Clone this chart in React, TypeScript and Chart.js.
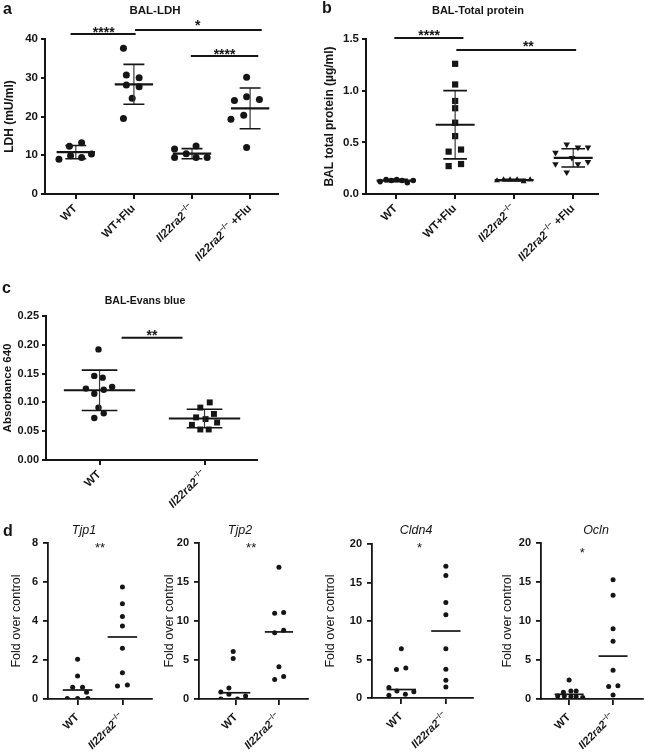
import React, { useEffect, useRef } from "react";
import { Chart, registerables } from "chart.js";

Chart.register(...registerables);

const FONT = '"Liberation Sans", Arial, Helvetica, sans-serif';
const INK = "#151515";

// ---------------- Panel a: BAL-LDH ----------------
const ldhCategories = ["WT", "WT+Flu", "Il22ra2−/−", "Il22ra2−/− +Flu"];
const ldhWT = [9.0, 12.3, 13.2, 9.9, 9.4, 10.3];
const ldhWTJitter = [-0.29, -0.11, 0.1, -0.09, 0.1, 0.27];
const ldhWTFlu = [37.6, 30.7, 30.0, 28.1, 27.7, 24.7, 19.5];
const ldhWTFluJitter = [-0.18, -0.13, 0.09, -0.13, 0.09, -0.03, -0.18];
const ldhKO = [11.6, 9.4, 10.4, 12.4, 9.4, 9.4];
const ldhKOJitter = [-0.3, -0.3, -0.1, 0.07, 0.07, 0.26];
const ldhKOFlu = [30.1, 24.1, 25.1, 24.4, 19.3, 20.3, 12.0];
const ldhKOFluJitter = [-0.06, -0.27, -0.06, 0.16, -0.33, -0.11, -0.06];
const ldhMeans = [10.8, 28.3, 10.4, 22.1];
const ldhSD = [1.7, 5.15, 1.3, 5.25];

// ---------------- Panel b: BAL-Total protein ----------------
const protCategories = ["WT", "WT+Flu", "Il22ra2−/−", "Il22ra2−/− +Flu"];
const protWT = [0.12, 0.14, 0.13, 0.14, 0.13, 0.11, 0.13];
const protWTJitter = [-0.27, -0.17, -0.08, 0.01, 0.1, 0.19, 0.29];
const protWTFlu = [1.26, 1.06, 0.9, 0.83, 0.69, 0.56, 0.43, 0.41, 0.29, 0.27];
const protWTFluJitter = [0, 0, 0, 0, 0, 0, 0.1, -0.11, 0.1, -0.11];
const protKO = [0.13, 0.14, 0.14, 0.14, 0.12, 0.14];
const protKOJitter = [-0.29, -0.18, -0.07, 0.05, 0.16, 0.27];
const protKOFlu = [0.48, 0.45, 0.45, 0.4, 0.35, 0.29, 0.21, 0.29, 0.31];
const protKOFluJitter = [-0.11, 0.08, 0.25, -0.3, -0.02, -0.3, -0.11, 0.08, 0.25];
const protMeans = [0.13, 0.67, 0.135, 0.35];
const protSD = [0.012, 0.33, 0.008, 0.088];

// ---------------- Panel c: BAL-Evans blue ----------------
const evansCategories = ["WT", "Il22ra2−/−"];
const evansWT = [0.192, 0.146, 0.143, 0.124, 0.122, 0.127, 0.115, 0.091, 0.081, 0.073];
const evansWTJitter = [-0.01, -0.05, 0.03, -0.13, 0.04, 0.12, -0.05, -0.01, 0.04, -0.05];
const evansKO = [0.1, 0.091, 0.074, 0.071, 0.08, 0.061, 0.065, 0.053, 0.053];
const evansKOJitter = [0.05, -0.04, -0.08, 0.01, 0.09, -0.12, 0.12, -0.04, 0.04];
const evansMeans = [0.121, 0.072];
const evansSD = [0.035, 0.016];

// ---------------- Panel d: tight junction genes ----------------
const geneCategories = ["WT", "Il22ra2−/−"];
const tjp1WT = [2.04, 1.18, 0.6, 0.6, 0.34, 0.03, 0.03, 0.03];
const tjp1WTJitter = [0, 0, -0.11, 0.11, 0.2, -0.23, 0, 0.23];
const tjp1KO = [5.74, 4.88, 4.23, 3.75, 2.6, 1.35, 0.67, 0.72];
const tjp1KOJitter = [0, 0, 0, 0, 0, 0, -0.11, 0.11];
const tjp1Medians = [0.46, 3.18];

const tjp2WT = [6.1, 5.2, 1.4, 0.9, 0.6, 0.0, 0.0, 0.4];
const tjp2WTJitter = [-0.07, -0.07, -0.17, -0.36, -0.17, -0.36, 0.03, 0.22];
const tjp2KO = [16.9, 11.0, 11.1, 8.5, 8.8, 4.15, 2.5, 2.87];
const tjp2KOJitter = [0, -0.1, 0.11, -0.1, 0.11, 0, -0.1, 0.11];
const tjp2Medians = [0.8, 8.6];

const cldn4WT = [6.4, 3.7, 3.9, 1.35, 0.35, 0.9, 0.5, 0.8];
const cldn4WTJitter = [0, -0.11, 0.1, -0.28, -0.28, -0.1, 0.09, 0.28];
const cldn4KO = [17.1, 15.9, 12.4, 10.8, 6.4, 3.75, 2.3, 1.44];
const cldn4KOJitter = [0, 0, 0, 0, 0, 0, 0, 0];
const cldn4Medians = [1.1, 8.7];

const oclnWT = [2.44, 0.86, 1.03, 1.03, 0.39, 0.39, 0.3, 0.3, 0.2];
const oclnWTJitter = [0, -0.13, 0.04, 0.16, -0.26, -0.11, 0.04, 0.16, 0.31];
const oclnKO = [15.3, 13.3, 9.0, 7.4, 3.7, 1.6, 1.7, 0.5];
const oclnKOJitter = [0, 0, 0, 0, 0, -0.1, 0.11, 0];
const oclnMedians = [0.6, 5.5];

// ---------------- types ----------------
type Group = { values: number[]; jitter: number[]; style: string; radius: number; rotation?: number };
type Sig = { x1?: number; x2?: number; y?: number; text: string; tx: number; ty: number; size: number };
type Spec = {
  box: [number, number, number, number];
  area: [number, number, number, number];
  xMin: number;
  xMax: number;
  yMin: number;
  yMax: number;
  yStep: number;
  yDigits: number;
  labels: string[];
  labelSize: number;
  labelDx: number;
  labelDy: number;
  title: { text: string; x: number; y: number; size: number; bold: boolean; italic: boolean };
  yTitle: { text: string; x: number; size: number; bold: boolean };
  groups: Group[];
  centers: number[];
  sd?: number[];
  meanHalf: number;
  capHalf: number;
  meanWidth: number;
  sigs: Sig[];
  axisWidth: number;
  tickLen: number;
  tickPad: number;
  tickSize: number;
};

const circle = "circle";

const specA: Spec = {
  box: [0, 0, 300, 280],
  area: [45, 39, 278, 194],
  xMin: -0.53, xMax: 3.48, yMin: 0, yMax: 40, yStep: 10, yDigits: 0,
  labels: ldhCategories, labelSize: 11.5, labelDx: -1, labelDy: 12,
  title: { text: "BAL-LDH", x: 155, y: 10, size: 11.5, bold: true, italic: false },
  yTitle: { text: "LDH (mU/ml)", x: 9, size: 12, bold: true },
  groups: [
    { values: ldhWT, jitter: ldhWTJitter, style: circle, radius: 3.5 },
    { values: ldhWTFlu, jitter: ldhWTFluJitter, style: circle, radius: 3.5 },
    { values: ldhKO, jitter: ldhKOJitter, style: circle, radius: 3.5 },
    { values: ldhKOFlu, jitter: ldhKOFluJitter, style: circle, radius: 3.5 },
  ],
  centers: ldhMeans, sd: ldhSD, meanHalf: 0.33, capHalf: 0.18, meanWidth: 2.2,
  sigs: [
    { x1: -0.09, x2: 1.03, y: 41.3, text: "****", tx: 0.48, ty: 42.5, size: 14 },
    { x1: 1.02, x2: 3.2, y: 42.3, text: "*", tx: 2.1, ty: 44.5, size: 14 },
    { x1: 1.98, x2: 3.14, y: 35.6, text: "****", tx: 2.56, ty: 37.0, size: 14 },
  ],
  axisWidth: 2, tickLen: 4, tickPad: 3, tickSize: 11.5,
};

const specB: Spec = {
  box: [320, 0, 325, 280],
  area: [366, 39, 598, 194],
  xMin: -0.51, xMax: 3.42, yMin: 0, yMax: 1.5, yStep: 0.5, yDigits: 1,
  labels: protCategories, labelSize: 11.5, labelDx: -1, labelDy: 12,
  title: { text: "BAL-Total protein", x: 478, y: 10, size: 11, bold: true, italic: false },
  yTitle: { text: "BAL total protein (µg/ml)", x: 329, size: 12, bold: true },
  groups: [
    { values: protWT, jitter: protWTJitter, style: circle, radius: 2.8 },
    { values: protWTFlu, jitter: protWTFluJitter, style: "rect", radius: 4.4 },
    { values: protKO, jitter: protKOJitter, style: "triangle", radius: 3.4 },
    { values: protKOFlu, jitter: protKOFluJitter, style: "triangle", radius: 3.8, rotation: 180 },
  ],
  centers: protMeans, sd: protSD, meanHalf: 0.33, capHalf: 0.2, meanWidth: 2.2,
  sigs: [
    { x1: -0.03, x2: 1.14, y: 1.51, text: "****", tx: 0.56, ty: 1.568, size: 14 },
    { x1: 1.02, x2: 3.05, y: 1.393, text: "**", tx: 2.24, ty: 1.461, size: 14 },
  ],
  axisWidth: 2, tickLen: 4, tickPad: 3, tickSize: 11.5,
};

const specC: Spec = {
  box: [0, 280, 320, 235],
  area: [46, 316, 257, 460],
  xMin: -0.51, xMax: 1.5, yMin: 0, yMax: 0.25, yStep: 0.05, yDigits: 2,
  labels: evansCategories, labelSize: 11.5, labelDx: -1, labelDy: 12,
  title: { text: "BAL-Evans blue", x: 145, y: 300.5, size: 10.5, bold: true, italic: false },
  yTitle: { text: "Absorbance 640", x: 7, size: 11.5, bold: true },
  groups: [
    { values: evansWT, jitter: evansWTJitter, style: circle, radius: 3.2 },
    { values: evansKO, jitter: evansKOJitter, style: "rect", radius: 4.2 },
  ],
  centers: evansMeans, sd: evansSD, meanHalf: 0.34, capHalf: 0.17, meanWidth: 2,
  sigs: [{ x1: 0.21, x2: 0.79, y: 0.2123, text: "**", tx: 0.5, ty: 0.2222, size: 14 }],
  axisWidth: 2, tickLen: 4, tickPad: 3, tickSize: 11,
};

function geneSpec(
  box: [number, number, number, number],
  area: [number, number, number, number],
  xMin: number,
  xMax: number,
  yMax: number,
  yStep: number,
  title: string,
  titleX: number,
  yTitleX: number,
  wt: number[],
  wtJ: number[],
  ko: number[],
  koJ: number[],
  medians: number[],
  sig: Sig
): Spec {
  return {
    box, area, xMin, xMax, yMin: 0, yMax, yStep, yDigits: 0,
    labels: geneCategories, labelSize: 11, labelDx: -1, labelDy: 16,
    title: { text: title, x: titleX, y: 529.5, size: 12.5, bold: false, italic: true },
    yTitle: { text: "Fold over control", x: yTitleX, size: 12.5, bold: false },
    groups: [
      { values: wt, jitter: wtJ, style: circle, radius: 2.5 },
      { values: ko, jitter: koJ, style: circle, radius: 2.5 },
    ],
    centers: medians, meanHalf: 0.33, capHalf: 0, meanWidth: 1.7,
    sigs: [sig],
    axisWidth: 1.8, tickLen: 5, tickPad: 5, tickSize: 11,
  };
}

const specD1 = geneSpec([0, 515, 160, 238], [48, 543, 152, 699], -0.66, 1.66, 8, 2, "Tjp1", 84, 15,
  tjp1WT, tjp1WTJitter, tjp1KO, tjp1KOJitter, tjp1Medians,
  { text: "**", tx: 0.5, ty: 7.9, size: 13 });
const specD2 = geneSpec([160, 515, 160, 238], [199, 543, 308, 699], -0.87, 1.68, 20, 5, "Tjp2", 240, 168.5,
  tjp2WT, tjp2WTJitter, tjp2KO, tjp2KOJitter, tjp2Medians,
  { text: "**", tx: 0.35, ty: 19.8, size: 13 });
const specD3 = geneSpec([320, 515, 160, 238], [372, 544, 473, 698], -0.66, 1.61, 20, 5, "Cldn4", 416, 329,
  cldn4WT, cldn4WTJitter, cldn4KO, cldn4KOJitter, cldn4Medians,
  { text: "*", tx: 0.41, ty: 19.9, size: 13 });
const specD4 = geneSpec([480, 515, 165, 238], [541, 543, 645, 699], -0.64, 1.67, 20, 5, "Ocln", 596, 506,
  oclnWT, oclnWTJitter, oclnKO, oclnKOJitter, oclnMedians,
  { text: "*", tx: 0.3, ty: 19.2, size: 13 });

const ALL_SPECS = [specA, specB, specC, specD1, specD2, specD3, specD4];

// ---------------- drawing helpers ----------------
function fontStr(size: number, bold: boolean, italic: boolean) {
  return `${italic ? "italic " : ""}${bold ? "bold " : ""}${size}px ${FONT}`;
}

function drawRotatedLabel(ctx: CanvasRenderingContext2D, text: string, x: number, y: number, size: number) {
  const m = text.match(/^(Il22ra2)(−\/−)(.*)$/);
  const segs = m
    ? [
        { t: m[1], it: true, sup: false },
        { t: m[2], it: false, sup: true },
        { t: m[3], it: false, sup: false },
      ]
    : [{ t: text, it: false, sup: false }];
  const fonts = segs.map((s) => fontStr(s.sup ? size * 0.66 : size, true, s.it));
  let total = 0;
  const widths = segs.map((s, i) => {
    ctx.font = fonts[i];
    const w = ctx.measureText(s.t).width;
    total += w;
    return w;
  });
  ctx.save();
  ctx.translate(x, y);
  ctx.rotate(-Math.PI / 4);
  ctx.textAlign = "left";
  ctx.textBaseline = "alphabetic";
  ctx.fillStyle = INK;
  let cx = -total;
  segs.forEach((s, i) => {
    ctx.font = fonts[i];
    const base = size * 0.36 + (s.sup ? -size * 0.42 : 0);
    ctx.fillText(s.t, cx, base);
    cx += widths[i];
  });
  ctx.restore();
}

function buildChart(canvas: HTMLCanvasElement, s: Spec) {
  const [bl, bt, bw, bh] = s.box;
  const [al, at, ar, ab] = s.area;

  const datasets = s.groups.map((g, gi) => ({
    data: g.values.map((v, i) => ({ x: gi + g.jitter[i], y: v })),
    pointStyle: g.style as any,
    pointRadius: g.radius,
    pointHoverRadius: g.radius,
    pointRotation: g.rotation || 0,
    backgroundColor: INK,
    borderColor: INK,
    borderWidth: 0,
  }));

  const extras = {
    id: "extras",
    afterDatasetsDraw(chart: any) {
      const ctx: CanvasRenderingContext2D = chart.ctx;
      const x = chart.scales.x;
      const y = chart.scales.y;
      ctx.save();
      ctx.lineCap = "butt";
      s.centers.forEach((c, gi) => {
        const cx = x.getPixelForValue(gi);
        if (s.sd) {
          const hi = y.getPixelForValue(c + s.sd[gi]);
          const lo = y.getPixelForValue(c - s.sd[gi]);
          ctx.strokeStyle = "#3a3a3a";
          ctx.lineWidth = 1.2;
          ctx.beginPath();
          ctx.moveTo(cx, hi);
          ctx.lineTo(cx, lo);
          ctx.stroke();
          ctx.strokeStyle = INK;
          ctx.lineWidth = 1.6;
          const c0 = x.getPixelForValue(gi - s.capHalf);
          const c1 = x.getPixelForValue(gi + s.capHalf);
          ctx.beginPath();
          ctx.moveTo(c0, hi);
          ctx.lineTo(c1, hi);
          ctx.moveTo(c0, lo);
          ctx.lineTo(c1, lo);
          ctx.stroke();
        }
        const m = y.getPixelForValue(c);
        ctx.strokeStyle = INK;
        ctx.lineWidth = s.meanWidth;
        ctx.beginPath();
        ctx.moveTo(x.getPixelForValue(gi - s.meanHalf), m);
        ctx.lineTo(x.getPixelForValue(gi + s.meanHalf), m);
        ctx.stroke();
      });
      ctx.restore();
    },
    afterDraw(chart: any) {
      const ctx: CanvasRenderingContext2D = chart.ctx;
      const x = chart.scales.x;
      const y = chart.scales.y;
      const area = chart.chartArea;
      ctx.save();
      ctx.fillStyle = INK;
      // title
      ctx.font = fontStr(s.title.size, s.title.bold, s.title.italic);
      ctx.textAlign = "center";
      ctx.textBaseline = "alphabetic";
      ctx.fillText(s.title.text, s.title.x - bl, s.title.y - bt + s.title.size * 0.36);
      // y title
      ctx.save();
      ctx.translate(s.yTitle.x - bl, (area.top + area.bottom) / 2);
      ctx.rotate(-Math.PI / 2);
      ctx.font = fontStr(s.yTitle.size, s.yTitle.bold, false);
      ctx.textAlign = "center";
      ctx.textBaseline = "alphabetic";
      ctx.fillText(s.yTitle.text, 0, s.yTitle.size * 0.36);
      ctx.restore();
      // x labels
      s.labels.forEach((lab, i) => {
        drawRotatedLabel(ctx, lab, x.getPixelForValue(i) + s.labelDx, area.bottom + s.labelDy, s.labelSize);
      });
      // significance
      s.sigs.forEach((g) => {
        if (g.x1 !== undefined && g.x2 !== undefined && g.y !== undefined) {
          ctx.strokeStyle = INK;
          ctx.lineWidth = 2;
          const py = y.getPixelForValue(g.y);
          ctx.beginPath();
          ctx.moveTo(x.getPixelForValue(g.x1), py);
          ctx.lineTo(x.getPixelForValue(g.x2), py);
          ctx.stroke();
        }
        ctx.font = fontStr(g.size, s.axisWidth >= 2, false);
        ctx.textAlign = "center";
        ctx.textBaseline = "alphabetic";
        ctx.fillText(g.text, x.getPixelForValue(g.tx), y.getPixelForValue(g.ty) + g.size * 0.57);
      });
      ctx.restore();
    },
  };

  return new Chart(canvas, {
    type: "scatter",
    data: { datasets: datasets as any },
    options: {
      animation: false,
      responsive: false,
      devicePixelRatio: 1,
      events: [],
      layout: { padding: { left: 0, top: at - bt, right: bl + bw - ar, bottom: 0 } },
      plugins: {
        legend: { display: false },
        tooltip: { enabled: false },
        title: { display: false },
      },
      scales: {
        x: {
          type: "linear",
          position: "bottom",
          min: s.xMin,
          max: s.xMax,
          afterBuildTicks: (scale: any) => {
            scale.ticks = s.labels.map((_, i) => ({ value: i }));
          },
          afterFit: (scale: any) => {
            scale.height = bt + bh - ab;
          },
          ticks: { display: false },
          grid: {
            display: true,
            drawOnChartArea: false,
            drawTicks: true,
            tickLength: s.tickLen + 1,
            color: INK,
            lineWidth: s.axisWidth,
          },
          border: { display: true, color: INK, width: s.axisWidth },
        },
        y: {
          type: "linear",
          min: s.yMin,
          max: s.yMax,
          afterFit: (scale: any) => {
            scale.width = al - bl;
          },
          ticks: {
            stepSize: s.yStep,
            color: INK,
            padding: s.tickPad,
            font: { family: FONT, size: s.tickSize, weight: "bold" },
            callback: (v: any) => Number(v).toFixed(s.yDigits),
          },
          grid: {
            display: true,
            drawOnChartArea: false,
            drawTicks: true,
            tickLength: s.tickLen,
            color: INK,
            lineWidth: s.axisWidth,
          },
          border: { display: true, color: INK, width: s.axisWidth },
        },
      },
    } as any,
    plugins: [extras],
  });
}

function ChartPanel({ spec }: { spec: Spec }) {
  const ref = useRef<HTMLCanvasElement>(null);
  useEffect(() => {
    if (!ref.current) return;
    const chart = buildChart(ref.current, spec);
    return () => chart.destroy();
  }, [spec]);
  const [l, t, w, h] = spec.box;
  return (
    <canvas
      ref={ref}
      width={w}
      height={h}
      style={{ position: "absolute", left: l, top: t, width: w, height: h }}
    />
  );
}

const letterStyle = (left: number, top: number): React.CSSProperties => ({
  position: "absolute",
  left,
  top,
  font: `bold 16px ${FONT}`,
  lineHeight: "16px",
  color: INK,
});

export default function App() {
  return (
    <div
      style={{
        position: "absolute",
        left: 0,
        top: 0,
        width: 645,
        height: 753,
        background: "#ffffff",
        overflow: "hidden",
      }}
    >
      {ALL_SPECS.map((s, i) => (
        <ChartPanel key={i} spec={s} />
      ))}
      <div style={letterStyle(3, 1)}>a</div>
      <div style={letterStyle(322, 0)}>b</div>
      <div style={letterStyle(2, 280)}>c</div>
      <div style={letterStyle(3, 523)}>d</div>
    </div>
  );
}
